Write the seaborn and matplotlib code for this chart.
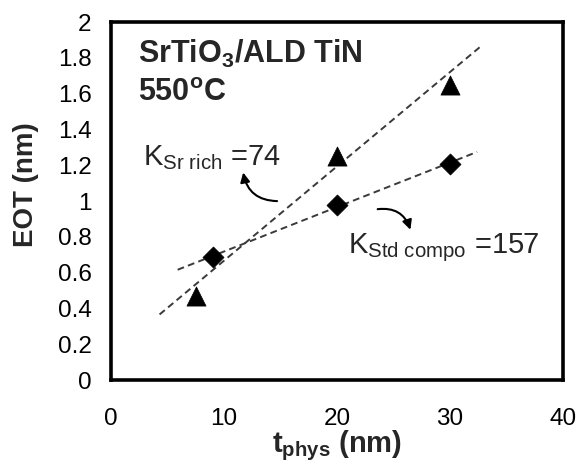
import numpy as np
import pandas as pd
import matplotlib
matplotlib.use("Agg")
import matplotlib.pyplot as plt
import seaborn as sns

# Physical thickness (nm) and measured EOT (nm) for the two film compositions
t_sr_rich = [7.5, 20, 30]
eot_sr_rich = [0.47, 1.25, 1.65]
t_std = [9, 20, 30]
eot_std = [0.69, 0.98, 1.21]

# Dielectric constants from the linear fits (slope = 3.9 / K)
k_sr_rich = 74
k_std = 157
# EOT offsets of the two fit lines (nm)
eot0_sr_rich = 0.14
eot0_std = 0.47
# Thickness span covered by each fit line (nm)
fit_span_sr_rich = [4.3, 32.8]
fit_span_std = [5.9, 32.4]

x_ticks = [0, 10, 20, 30, 40]
y_ticks = [0, 0.2, 0.4, 0.6, 0.8, 1.0, 1.2, 1.4, 1.6, 1.8, 2.0]
y_tick_labels = ["0", "0.2", "0.4", "0.6", "0.8", "1", "1.2", "1.4", "1.6", "1.8", "2"]

sns.set_style("white")
plt.rcParams["font.family"] = ["Liberation Sans", "DejaVu Sans"]
plt.rcParams["mathtext.fontset"] = "custom"
plt.rcParams["mathtext.rm"] = "Liberation Sans"
plt.rcParams["mathtext.it"] = "Liberation Sans:italic"
plt.rcParams["mathtext.bf"] = "Liberation Sans:bold"
plt.rcParams["mathtext.default"] = "regular"

points = pd.DataFrame({
    "t": t_sr_rich + t_std,
    "eot": eot_sr_rich + eot_std,
    "film": ["Sr rich"] * len(t_sr_rich) + ["Std compo"] * len(t_std),
})


def fit_line(span, k, eot0, name):
    t = np.array(span, dtype=float)
    return pd.DataFrame({"t": t, "eot": 3.9 * t / k + eot0, "film": name})


fits = pd.concat([
    fit_line(fit_span_sr_rich, k_sr_rich, eot0_sr_rich, "Sr rich"),
    fit_line(fit_span_std, k_std, eot0_std, "Std compo"),
])

fig = plt.figure(figsize=(5.78, 4.71), dpi=100)
ax = fig.add_axes([0.192, 0.193, 0.782, 0.760])

sns.lineplot(data=fits, x="t", y="eot", units="film", estimator=None,
             color="#3a3a3a", lw=1.4, linestyle=(0, (3.5, 2.2)),
             sort=False, ax=ax, legend=False)
sns.scatterplot(data=points[points.film == "Sr rich"], x="t", y="eot",
                marker="^", s=190, color="black", edgecolor="black",
                linewidth=0.5, ax=ax, legend=False, zorder=3)
sns.scatterplot(data=points[points.film == "Std compo"], x="t", y="eot",
                marker="D", s=115, color="black", edgecolor="black",
                linewidth=0.5, ax=ax, legend=False, zorder=3)

ax.set_xlim(0, 40)
ax.set_ylim(0, 2)
ax.set_xticks(x_ticks)
ax.set_xticklabels([str(v) for v in x_ticks])
ax.set_yticks(y_ticks)
ax.set_yticklabels(y_tick_labels)

for side in ["left", "right", "top", "bottom"]:
    ax.spines[side].set_visible(True)
    ax.spines[side].set_linewidth(2.6)
    ax.spines[side].set_color("black")

ax.tick_params(axis="both", which="major", direction="in", length=6,
               width=1.3, color="black", labelsize=17.5, labelcolor="black")
ax.tick_params(axis="x", pad=20)
ax.tick_params(axis="y", pad=14)

ax.set_xlabel(r"t$_{\mathbf{phys}}$ (nm)", fontsize=21, fontweight="bold")
ax.set_ylabel("EOT (nm)", fontsize=20, fontweight="bold")
ax.xaxis.set_label_coords(0.5, -0.135)
ax.yaxis.set_label_coords(-0.16, 0.545)

ax.text(2.4, 1.77, r"SrTiO$_\mathbf{3}$/ALD TiN", fontsize=22,
        fontweight="bold", va="baseline", ha="left")
ax.text(2.4, 1.56, r"550$^\mathbf{o}$C", fontsize=22,
        fontweight="bold", va="baseline", ha="left")

ax.text(2.8, 1.20, r"K$_{\mathregular{Sr\ rich}}$ =" + str(k_sr_rich),
        fontsize=21, va="baseline", ha="left")
ax.text(21.0, 0.71, r"K$_{\mathregular{Std\ compo}}$ =" + str(k_std),
        fontsize=21, va="baseline", ha="left")

arrow_style = dict(arrowstyle="-|>", color="black", lw=1.5,
                   mutation_scale=14, shrinkA=0, shrinkB=0)
ax.annotate("", xy=(11.7, 1.16), xytext=(14.7, 1.00),
            arrowprops=dict(connectionstyle="arc3,rad=-0.4", **arrow_style))
ax.annotate("", xy=(26.5, 0.84), xytext=(23.6, 0.955),
            arrowprops=dict(connectionstyle="arc3,rad=-0.4", **arrow_style))

fig.savefig("out.png", dpi=100)
